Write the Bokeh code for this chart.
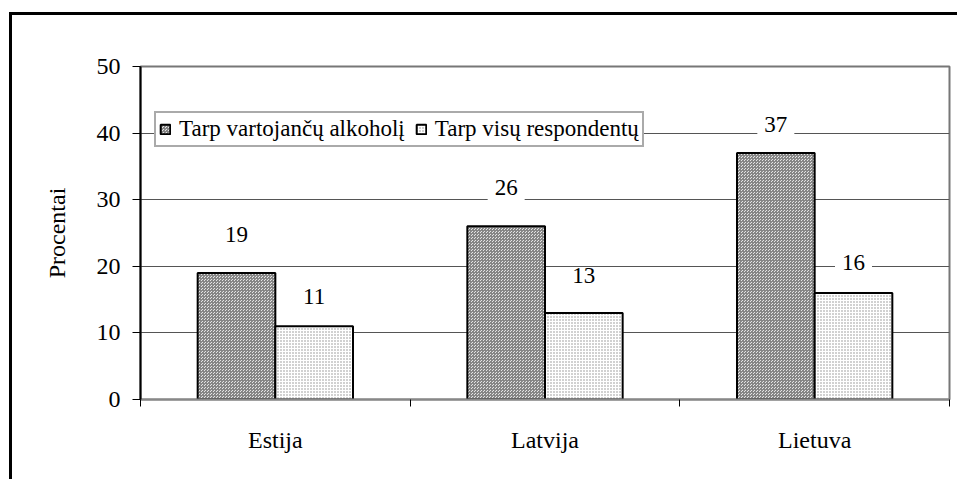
from bokeh.plotting import figure
from bokeh.layouts import column
from bokeh.models import ColumnDataSource, FixedTicker, Label, Legend, LegendItem
from bokeh.embed import file_html
from bokeh.resources import INLINE

categories = ["Estija", "Latvija", "Lietuva"]
series_names = ["Tarp vartojančų alkoholį", "Tarp visų respondentų"]
drinkers = [19, 26, 37]
all_resp = [11, 13, 16]
y_ticks = [0, 10, 20, 30, 40, 50]

FONT = "Liberation Serif"

p = figure(width=948, height=467, x_range=(0, 3), y_range=(0, 50),
           output_backend="svg", toolbar_location=None,
           min_border_left=128, min_border_top=51, min_border_right=11, min_border_bottom=83,
           styles={"border-left": "3px solid black", "border-top": "3px solid black"})
p.outline_line_color = "#777777"
p.outline_line_width = 2
p.background_fill_color = "white"

bw = 0.288
centers = [i + 0.5 for i in range(len(categories))]
src1 = ColumnDataSource(dict(x=[c - bw / 2 for c in centers], top=drinkers))
src2 = ColumnDataSource(dict(x=[c + bw / 2 for c in centers], top=all_resp))

r1 = p.vbar(x="x", top="top", width=bw, source=src1, fill_color="#e4e4e4",
            hatch_pattern="criss_cross", hatch_color="#858585", hatch_scale=3, hatch_weight=1,
            line_color="black", line_width=2)
r2 = p.vbar(x="x", top="top", width=bw, source=src2, fill_color="#ffffff",
            hatch_pattern="dot", hatch_color="#8c8c8c", hatch_scale=3, hatch_weight=1,
            line_color="black", line_width=2)

p.xaxis.ticker = FixedTicker(ticks=centers, minor_ticks=[i for i in range(len(categories) + 1)])
p.xaxis.major_label_overrides = {c: cat for c, cat in zip(centers, categories)}
p.xaxis.major_tick_line_color = None
p.xaxis.major_tick_out = 0
p.xaxis.minor_tick_out = 7
p.xaxis.minor_tick_in = 0
p.xaxis.minor_tick_line_color = "black"
p.xaxis.axis_line_color = "#888888"
p.xaxis.axis_line_width = 2
p.xaxis.major_label_standoff = 20
p.xaxis.major_label_text_font = FONT
p.xaxis.major_label_text_font_size = "24px"
p.xaxis.major_label_text_color = "black"

p.yaxis.ticker = FixedTicker(ticks=y_ticks)
p.yaxis.minor_tick_line_color = None
p.yaxis.major_tick_in = 0
p.yaxis.major_tick_out = 8
p.yaxis.major_tick_line_color = "black"
p.yaxis.axis_line_color = "black"
p.yaxis.axis_line_width = 2
p.yaxis.major_label_standoff = 12
p.yaxis.major_label_text_font = FONT
p.yaxis.major_label_text_font_size = "24px"
p.yaxis.major_label_text_color = "black"
p.yaxis.axis_label = "Procentai"
p.yaxis.axis_label_text_font = FONT
p.yaxis.axis_label_text_font_size = "24px"
p.yaxis.axis_label_text_font_style = "normal"
p.yaxis.axis_label_text_color = "black"
p.yaxis.axis_label_standoff = 24

p.xgrid.grid_line_color = None
p.ygrid.ticker = FixedTicker(ticks=y_ticks[1:-1])
p.ygrid.grid_line_color = "#555555"
p.ygrid.grid_line_width = 1

label_offsets = [[29, 30, 20], [21, 28, 21]]
for vals, offs, sign in ((drinkers, label_offsets[0], -1), (all_resp, label_offsets[1], 1)):
    for c, v, off in zip(centers, vals, offs):
        p.add_layout(Label(x=c + sign * bw / 2, y=v, text=str(v), y_offset=off,
                           text_align="center", text_baseline="middle",
                           text_font=FONT, text_font_size="23px", text_color="black",
                           background_fill_color="white",
                           padding=dict(left=7, right=7, top=1, bottom=19)))

legend = Legend(items=[LegendItem(label=series_names[0], renderers=[r1]),
                       LegendItem(label=series_names[1], renderers=[r2])],
                orientation="horizontal", location=(14, 252),
                label_text_font=FONT, label_text_font_size="23px", label_text_color="black",
                glyph_width=12, glyph_height=12, label_standoff=8, spacing=10,
                padding=3, margin=0, border_line_color="#555555", border_line_width=2,
                background_fill_color="white", background_fill_alpha=1.0)
p.add_layout(legend, "center")

page = column(p, styles={"padding-left": "9px", "padding-top": "12px"})

open("out.html", "w").write(file_html(page, INLINE))
